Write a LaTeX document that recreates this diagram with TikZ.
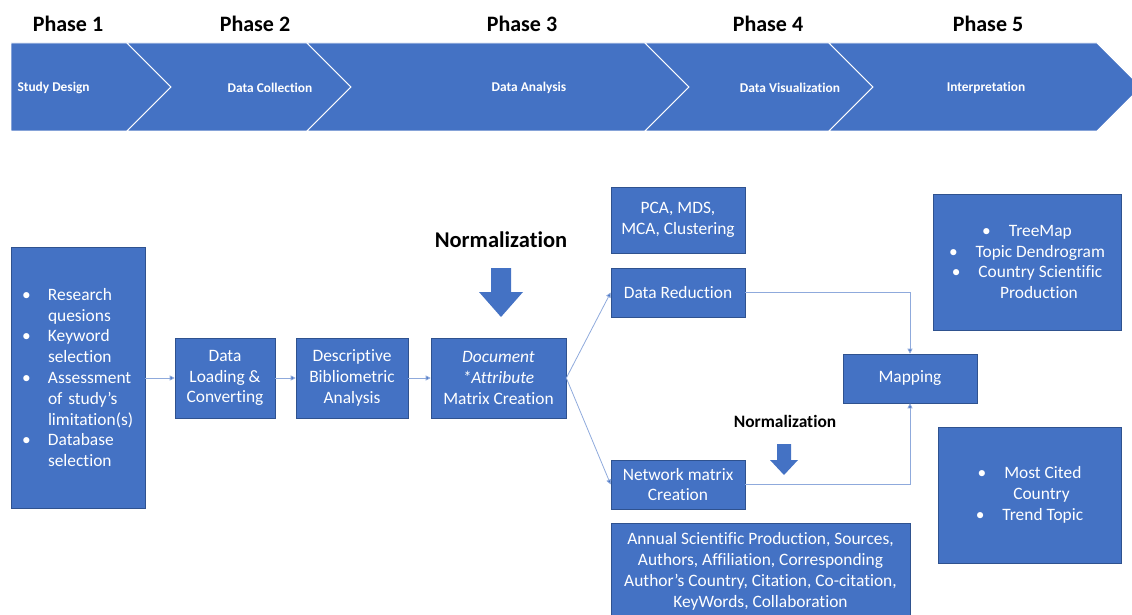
\documentclass[tikz,border=0pt]{standalone}
\usepackage{fontspec}
\setmainfont{Carlito}[Ligatures=NoCommon]
\usetikzlibrary{arrows.meta, positioning}
\definecolor{boxblue}{RGB}{68,114,196}
\definecolor{boxedge}{RGB}{47,82,143}
\definecolor{linkblue}{RGB}{143,170,220}

\begin{document}
\begin{tikzpicture}[x=1pt, y=-1pt]

        % Setup the styles for the boxes and links
        \tikzset{box style/.style={draw=boxedge,
                                   line width=0.6pt,
                                   fill=boxblue,
                                   text=white,
                                   inner sep=0pt,
                                   align=center,
                                   font=\fontsize{17.4}{20.8}\selectfont},
                 phase style/.style={font=\fontsize{22}{25}\selectfont\bfseries},
                 chevron style/.style={fill=boxblue, draw=white, line width=0.9pt},
                 link style/.style={draw=linkblue, line width=0.8pt,
                                    -{Triangle[length=5pt,width=5pt,fill=boxblue]}}}

        \path[use as bounding box] (0,0) rectangle (1132,615);
        \clip (0,0) rectangle (1132,615);

        % Draw the phase band
        \draw[chevron style] (11,43) -- (127,43) -- (171,87) -- (127,131) -- (11,131) -- cycle;
        \foreach \s/\e in {127/307, 307/645, 645/829, 829/1097}
            \draw[chevron style] (\s,43) -- (\e,43) -- (\e+44,87) -- (\e,131)
                                 -- (\s,131) -- (\s+44,87) -- cycle;

        \foreach \x/\n in {68/1, 255/2, 522/3, 768/4, 988/5}
            \node[phase style] (phase\n) at (\x,24) {Phase \n};

        \node[text=white, font=\fontsize{13.4}{16}\selectfont\bfseries, anchor=west]
            (design) at (14,88) {Study Design};
        \foreach \x/\n/\t in {270/collect/Data Collection, 529/analysis/Data Analysis,
                              790/visual/Data Visualization, 986/interp/Interpretation}
            \node[text=white, font=\fontsize{13.4}{16}\selectfont\bfseries]
                (\n) at (\x,88) {\t};

        % Draw the boxes
        \node[box style, minimum width=134pt, minimum height=261pt,
              text width=112pt, align=left] at (78,377.5) (plan)
            {\makebox[26pt][l]{\textbullet}Research\\
             \hspace*{26pt}quesions\\
             \makebox[26pt][l]{\textbullet}Keyword\\
             \hspace*{26pt}selection\\
             \makebox[26pt][l]{\textbullet}Assessment\\
             \hspace*{26pt}of study’s\\
             \hspace*{26pt}limitation(s)\\
             \makebox[26pt][l]{\textbullet}Database\\
             \hspace*{26pt}selection};
        \node[box style, minimum width=100pt, minimum height=80pt] at (225,378)   (load)
            {Data\\Loading \&\\Converting};
        \node[box style, minimum width=112pt, minimum height=80pt] at (352,378)   (desc)
            {Descriptive\\Bibliometric\\Analysis};
        \node[box style, minimum width=135pt, minimum height=80pt] at (498.5,378) (matrix)
            {\textit{Document}\\\textit{*Attribute}\\Matrix Creation};
        \node[box style, minimum width=134pt, minimum height=66pt] at (678,220)   (pca)
            {PCA, MDS,\\MCA, Clustering};
        \node[box style, minimum width=134pt, minimum height=49pt] at (678,292.5) (reduce)
            {Data Reduction};
        \node[box style, minimum width=134pt, minimum height=49pt] at (678,484.5) (network)
            {Network matrix\\Creation};
        \node[box style, minimum width=134pt, minimum height=49pt] at (910,378.5) (mapping)
            {Mapping};
        \node[box style, minimum width=188pt, minimum height=136pt] at (1027,262) (treemap)
            {\textbullet\hspace{18pt}TreeMap\\
             \textbullet\hspace{18pt}Topic Dendrogram\\
             \textbullet\hspace{18pt}Country Scientific\\
             \hspace*{24pt}Production};
        \node[box style, minimum width=183pt, minimum height=136pt] at (1029.5,495) (cited)
            {\textbullet\hspace{18pt}Most Cited\\
             \hspace*{24pt}Country\\
             \textbullet\hspace{18pt}Trend Topic};
        \node[box style, minimum width=299pt, minimum height=97pt] at (760.5,571.5) (fields)
            {Annual Scientific Production, Sources,\\
             Authors, Affiliation, Corresponding\\
             Author’s Country, Citation, Co-citation,\\
             KeyWords, Collaboration};

        % Normalization labels and arrows
        \node[phase style, font=\fontsize{22.5}{25}\selectfont\bfseries] (norm) at (501,240) {Normalization};
        \fill[boxblue] (491,268) -- (511,268) -- (511,292) -- (523,292) -- (501,317)
                       -- (479,292) -- (491,292) -- cycle;
        \node[font=\fontsize{17.4}{20}\selectfont\bfseries] (normsmall) at (785,421) {Normalization};
        \fill[boxblue] (777,444) -- (791,444) -- (791,460) -- (798,460) -- (784,475)
                       -- (770,460) -- (777,460) -- cycle;

        % Connect the boxes with arrows
        \draw[link style] (plan.east |- load.west) -- (load.west);
        \draw[link style] (load) -- (desc);
        \draw[link style] (desc) -- (matrix);
        \draw[link style] (matrix.east) -- (reduce.west);
        \draw[link style] (matrix.east) -- (network.west);
        \draw[link style] (reduce.east) -| (mapping.north);
        \draw[link style] (network.east) -| (mapping.south);
\end{tikzpicture}
\end{document}
